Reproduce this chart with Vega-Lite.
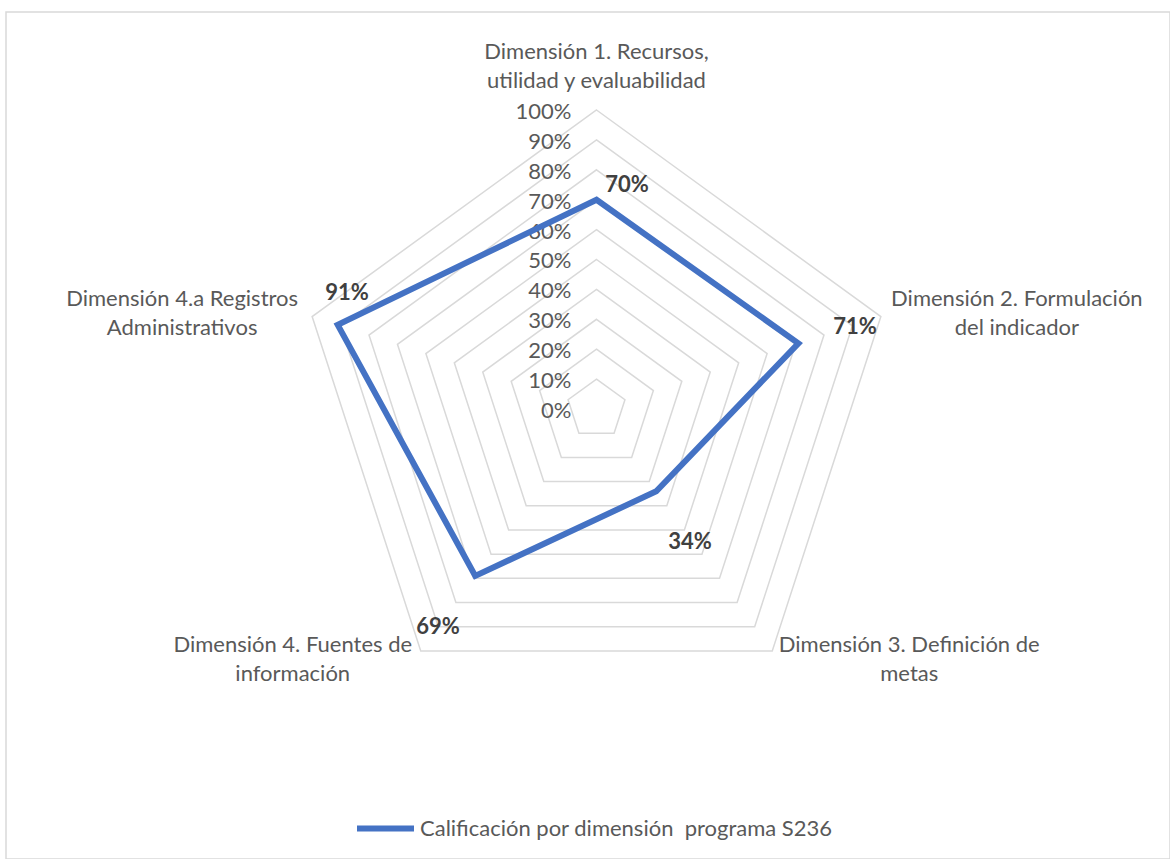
{
  "$schema": "https://vega.github.io/schema/vega-lite/v6.json",
  "width": 1164,
  "height": 847,
  "autosize": {"type": "none"},
  "padding": {"left": 6, "top": 12, "right": 0, "bottom": 0},
  "background": "white",
  "config": {
    "view": {"stroke": "#d9d9d9", "strokeWidth": 1.5},
    "font": "Lato",
    "text": {"font": "Lato"}
  },
  "datasets": {
    "main": [
      {"dim": "Dimensión 1. Recursos,\nutilidad y evaluabilidad", "i": 0, "v": 0.70, "serie": "Calificación por dimensión\u00a0 programa S236"},
      {"dim": "Dimensión 2. Formulación\ndel indicador", "i": 1, "v": 0.71, "serie": "Calificación por dimensión\u00a0 programa S236"},
      {"dim": "Dimensión 3. Definición de\nmetas", "i": 2, "v": 0.34, "serie": "Calificación por dimensión\u00a0 programa S236"},
      {"dim": "Dimensión 4. Fuentes de\ninformación", "i": 3, "v": 0.69, "serie": "Calificación por dimensión\u00a0 programa S236"},
      {"dim": "Dimensión 4.a Registros\nAdministrativos", "i": 4, "v": 0.91, "serie": "Calificación por dimensión\u00a0 programa S236"}
    ]
  },
  "encoding": {
    "x": {"field": "x", "type": "quantitative", "scale": {"domain": [-1.97492, 1.91806], "nice": false, "zero": false}, "axis": null},
    "y": {"field": "y", "type": "quantitative", "scale": {"domain": [-1.50502, 1.32776], "nice": false, "zero": false}, "axis": null}
  },
  "layer": [
    {
      "data": {"values": [
        {"lv": 0.1, "i": [0, 1, 2, 3, 4]},
        {"lv": 0.2, "i": [0, 1, 2, 3, 4]},
        {"lv": 0.3, "i": [0, 1, 2, 3, 4]},
        {"lv": 0.4, "i": [0, 1, 2, 3, 4]},
        {"lv": 0.5, "i": [0, 1, 2, 3, 4]},
        {"lv": 0.6, "i": [0, 1, 2, 3, 4]},
        {"lv": 0.7, "i": [0, 1, 2, 3, 4]},
        {"lv": 0.8, "i": [0, 1, 2, 3, 4]},
        {"lv": 0.9, "i": [0, 1, 2, 3, 4]},
        {"lv": 1.0, "i": [0, 1, 2, 3, 4]}
      ]},
      "transform": [
        {"flatten": ["i"]},
        {"calculate": "PI/2 - datum.i*2*PI/5", "as": "a"},
        {"calculate": "datum.lv*cos(datum.a)", "as": "x"},
        {"calculate": "datum.lv*sin(datum.a)", "as": "y"}
      ],
      "mark": {"type": "line", "interpolate": "linear-closed", "color": "#d9d9d9", "strokeWidth": 1.5},
      "encoding": {
        "detail": {"field": "lv", "type": "nominal"},
        "order": {"field": "i", "type": "quantitative"}
      }
    },
    {
      "data": {"values": [
        {"lv": 0}, {"lv": 0.1}, {"lv": 0.2}, {"lv": 0.3}, {"lv": 0.4}, {"lv": 0.5},
        {"lv": 0.6}, {"lv": 0.7}, {"lv": 0.8}, {"lv": 0.9}, {"lv": 1.0}
      ]},
      "transform": [
        {"calculate": "0", "as": "x"},
        {"calculate": "datum.lv", "as": "y"}
      ],
      "mark": {"type": "text", "align": "right", "baseline": "middle", "dx": -25, "dy": 2, "fontSize": 22, "color": "#595959"},
      "encoding": {"text": {"field": "lv", "type": "quantitative", "format": ".0%"}}
    },
    {
      "data": {"name": "main"},
      "transform": [
        {"calculate": "PI/2 - datum.i*2*PI/5", "as": "a"},
        {"calculate": "datum.v*cos(datum.a)", "as": "x"},
        {"calculate": "datum.v*sin(datum.a)", "as": "y"}
      ],
      "mark": {"type": "line", "interpolate": "linear-closed", "strokeWidth": 6},
      "encoding": {
        "color": {
          "field": "serie", "type": "nominal",
          "scale": {"range": ["#4472C4"]},
          "legend": {
            "title": null, "orient": "none", "legendX": 348, "legendY": 785,
            "symbolType": "stroke", "symbolSize": 3249, "symbolStrokeWidth": 6,
            "labelFont": "Lato", "labelFontSize": 22, "labelColor": "#595959", "labelOffset": 3,
            "labelLimit": 800, "padding": 0
          }
        },
        "order": {"field": "i", "type": "quantitative"}
      }
    },
    {
      "data": {"name": "main"},
      "transform": [
        {"calculate": "PI/2 - datum.i*2*PI/5", "as": "a"},
        {"calculate": "datum.v*cos(datum.a)", "as": "x"},
        {"calculate": "datum.v*sin(datum.a)", "as": "y"}
      ],
      "mark": {
        "type": "text", "align": "center", "baseline": "middle", "fontSize": 22, "fontWeight": "bold", "color": "#404040",
        "dx": {"expr": "[30.5, 56.6, 33.8, -37.3, 9.3][datum.i]"},
        "dy": {"expr": "[-14.7, -16.4, 50.8, 51.1, -31.9][datum.i]"}
      },
      "encoding": {"text": {"field": "v", "type": "quantitative", "format": ".0%"}}
    },
    {
      "data": {"name": "main"},
      "transform": [
        {"calculate": "PI/2 - datum.i*2*PI/5", "as": "a"},
        {"calculate": "cos(datum.a)", "as": "x"},
        {"calculate": "sin(datum.a)", "as": "y"}
      ],
      "mark": {
        "type": "text", "align": "center", "baseline": "middle", "fontSize": 22, "color": "#595959",
        "lineBreak": "\n", "lineHeight": 29,
        "dx": {"expr": "[0, 136, 137, -128, -130][datum.i]"},
        "dy": {"expr": "[-58, -18, -6, -6, -18][datum.i]"}
      },
      "encoding": {"text": {"field": "dim", "type": "nominal"}}
    }
  ]
}
